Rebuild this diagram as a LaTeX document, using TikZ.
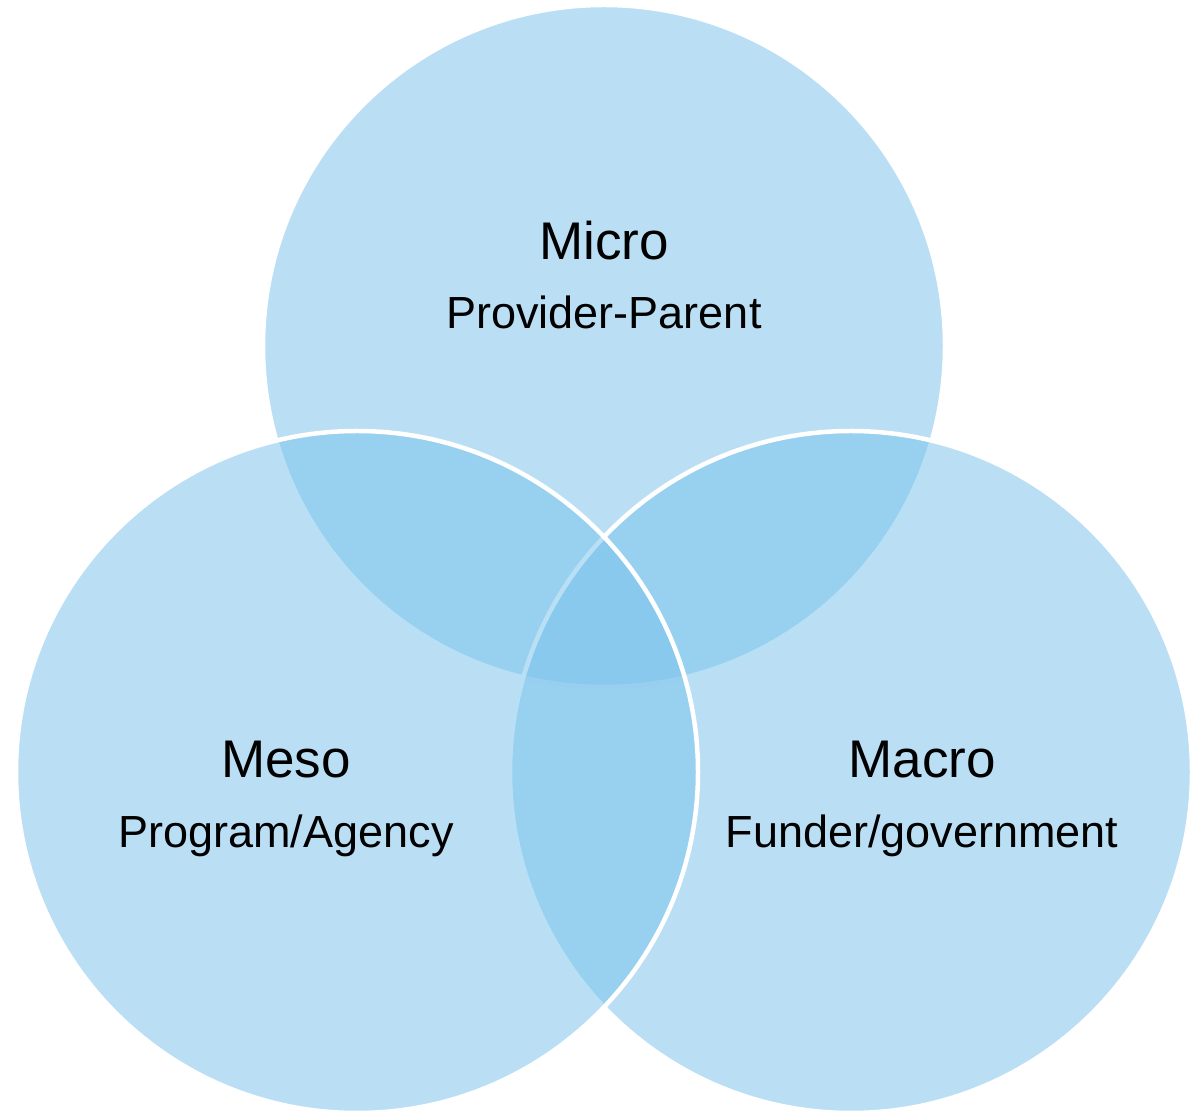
\documentclass[tikz,border=0pt]{standalone}
\usepackage{fontspec}
\setmainfont{Liberation Sans}
\definecolor{vennblue}{RGB}{122,194,236}
\tikzset{
  venn/.style={circle, minimum size=682pt, inner sep=0pt, fill=vennblue,
    fill opacity=0.52, draw=white, line width=4.5pt},
  level/.style={anchor=base, font=\fontsize{53}{60}\selectfont},
  actor/.style={anchor=base, font=\fontsize{45}{52}\selectfont}
}
\begin{document}
\begin{tikzpicture}[x=1pt,y=1pt]
  \useasboundingbox (0,0) rectangle (1202,1111);

  % the three circles, drawn top, right, left
  \node[venn] (micro) at (604,765) {};
  \node[venn] (macro) at (851,339) {};
  \node[venn] (meso)  at (357,339) {};

  \node[level] (microname) at (604,851) {Micro};
  \node[actor] (microactor) at (604,782) {Provider-Parent};
  \node[level] (mesoname) at (286,333) {Meso};
  \node[actor] (mesoactor) at (286,263) {Program/Agency};
  \node[level] (macroname) at (922,333) {Macro};
  \node[actor] (macroactor) at (922,263) {Funder/government};
\end{tikzpicture}
\end{document}
